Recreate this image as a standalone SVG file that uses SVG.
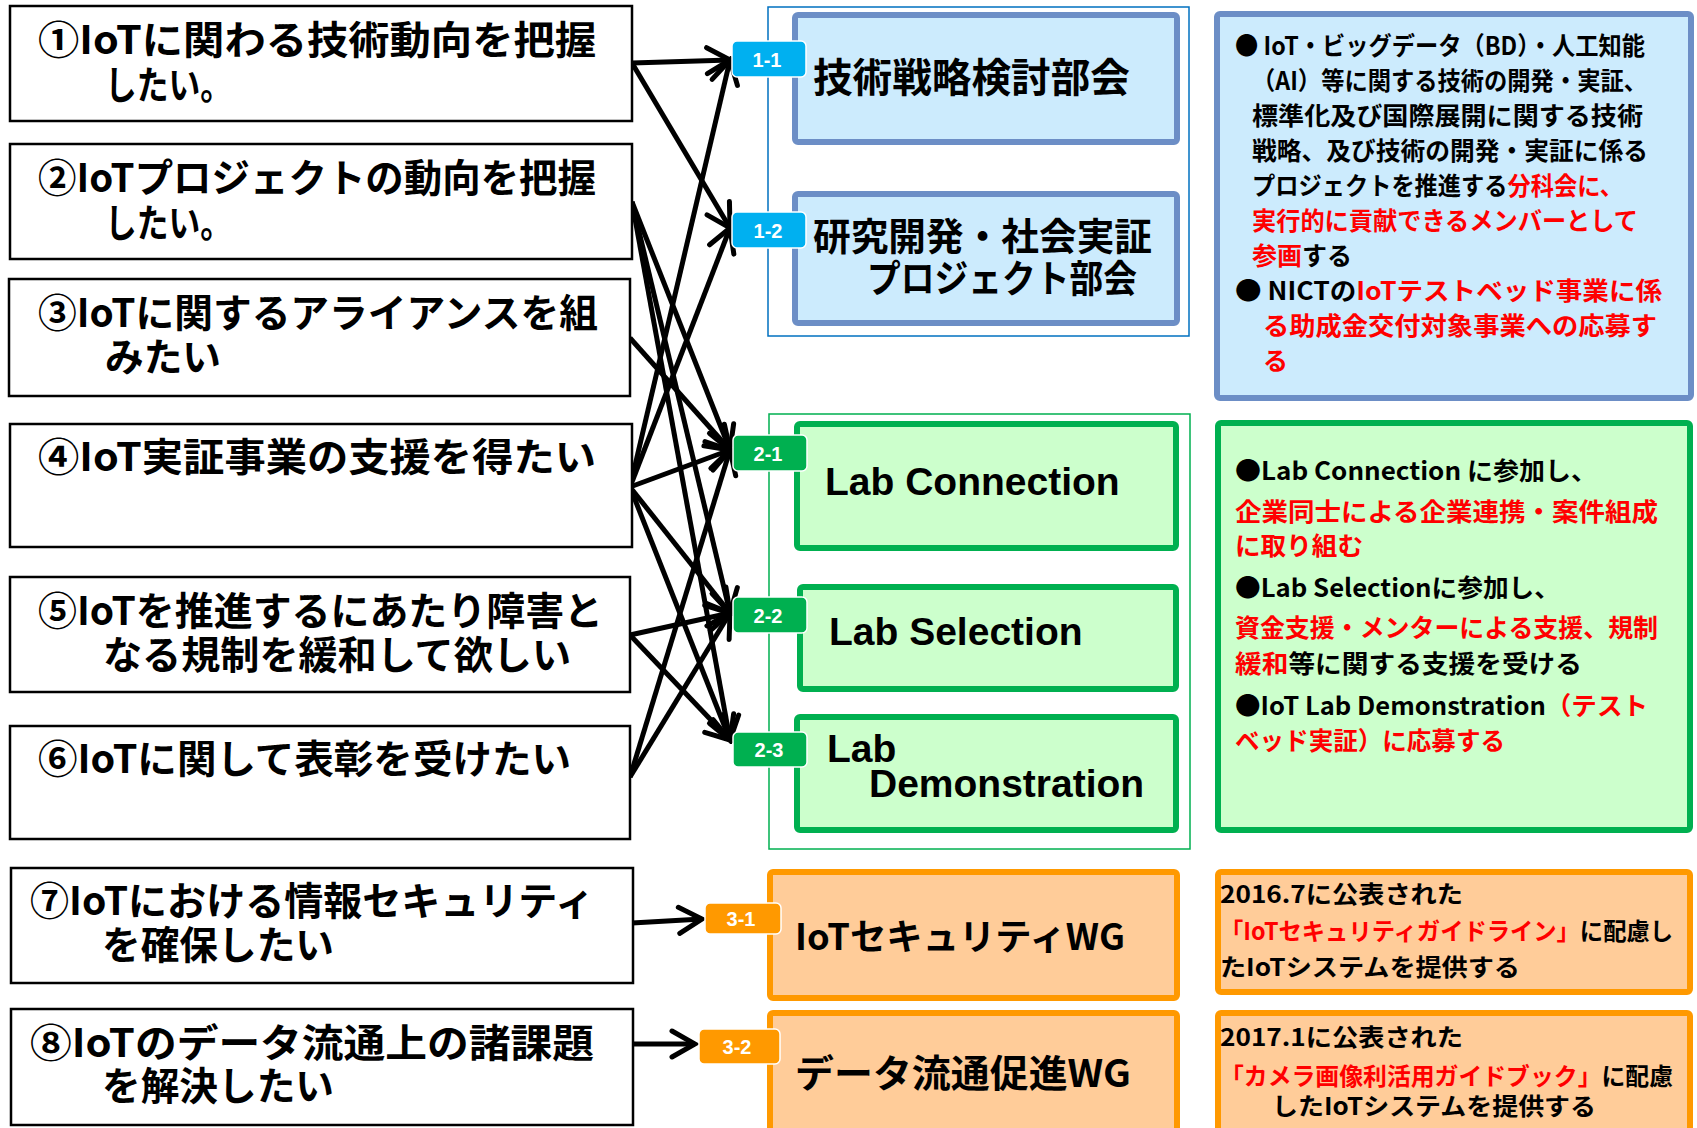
<svg xmlns="http://www.w3.org/2000/svg" width="1697" height="1128" viewBox="0 0 1697 1128">
<style>
.need{fill:#fff;stroke:#000;stroke-width:2.5}
.nt{font-family:"Noto Sans CJK JP","Noto Sans",sans-serif;font-weight:bold;font-size:39px;fill:#000}
.cont1{fill:none;stroke:#0070C0;stroke-width:1.5}
.cont2{fill:none;stroke:#00B050;stroke-width:1.5}
.bbox{fill:#CCEBFD;stroke:#6C8EC6;stroke-width:6}
.gbox{fill:#CCFFCC;stroke:#00B050;stroke-width:6}
.obox{fill:#FFCC99;stroke:#FF9900;stroke-width:6}
.tag1{fill:#00B0F0;stroke:#fff;stroke-width:1.5}
.tag2{fill:#00B050;stroke:#fff;stroke-width:1.5}
.tag3{fill:#FF9900;stroke:#fff;stroke-width:1.5}
.tt{font-family:"Liberation Sans",Arial,sans-serif;font-weight:bold;font-size:20px;fill:#fff;text-anchor:middle}
.jt{font-family:"Noto Sans CJK JP","Noto Sans",sans-serif;font-weight:bold;fill:#000}
.lab{font-family:"Liberation Sans",Arial,sans-serif;font-weight:bold;font-size:39px;fill:#000}
.it{font-family:"Noto Sans CJK JP","Noto Sans",sans-serif;font-weight:bold;font-size:25px;fill:#000}
.ot{font-family:"Noto Sans CJK JP","Noto Sans",sans-serif;font-weight:bold;font-size:24px;fill:#000}
.red{fill:#FF0000}
.con{stroke:#000;stroke-width:5;fill:none;marker-end:url(#ah)}
</style>
<defs>
<marker id="ah" markerUnits="userSpaceOnUse" viewBox="-30 -18 34 36" refX="0" refY="0" markerWidth="34" markerHeight="36" orient="auto">
<path d="M-23,-13 L0,0 L-23,13" fill="none" stroke="#000" stroke-width="5" stroke-linecap="round" stroke-linejoin="miter"/>
</marker>
</defs>
<rect width="1697" height="1128" fill="#fff"/>

<g id="connectors">
<line class="con" x1="632" y1="63" x2="730" y2="60"/>
<line class="con" x1="632" y1="63" x2="730" y2="228"/>
<line class="con" x1="632" y1="202" x2="730" y2="450"/>
<line class="con" x1="632" y1="202" x2="730" y2="613"/>
<line class="con" x1="632" y1="202" x2="730" y2="740"/>
<line class="con" x1="630" y1="338" x2="730" y2="450"/>
<line class="con" x1="630" y1="487" x2="730" y2="60"/>
<line class="con" x1="630" y1="487" x2="730" y2="228"/>
<line class="con" x1="630" y1="487" x2="730" y2="450"/>
<line class="con" x1="630" y1="487" x2="730" y2="613"/>
<line class="con" x1="630" y1="487" x2="730" y2="740"/>
<line class="con" x1="630" y1="635" x2="730" y2="613"/>
<line class="con" x1="630" y1="635" x2="730" y2="740"/>
<line class="con" x1="630" y1="777" x2="730" y2="450"/>
<line class="con" x1="630" y1="777" x2="730" y2="613"/>
<line class="con" x1="632" y1="923" x2="702" y2="919"/>
<line class="con" x1="632" y1="1044" x2="695" y2="1044"/>
</g>

<g id="need1">
<rect class="need" x="10" y="6" width="622" height="115"/>
<text class="nt" x="38" y="54" textLength="558" lengthAdjust="spacingAndGlyphs">①IoTに関わる技術動向を把握</text>
<text class="nt" x="105" y="99" textLength="127" lengthAdjust="spacingAndGlyphs">したい。</text>
</g>
<g id="need2">
<rect class="need" x="10" y="144" width="622" height="115"/>
<text class="nt" x="38" y="192" textLength="558" lengthAdjust="spacingAndGlyphs">②IoTプロジェクトの動向を把握</text>
<text class="nt" x="105" y="237" textLength="127" lengthAdjust="spacingAndGlyphs">したい。</text>
</g>
<g id="need3">
<rect class="need" x="9" y="279" width="621" height="117"/>
<text class="nt" x="38" y="327" textLength="560" lengthAdjust="spacingAndGlyphs">③IoTに関するアライアンスを組</text>
<text class="nt" x="105" y="371" textLength="116" lengthAdjust="spacingAndGlyphs">みたい</text>
</g>
<g id="need4">
<rect class="need" x="10" y="424" width="622" height="123"/>
<text class="nt" x="38" y="471" textLength="558" lengthAdjust="spacingAndGlyphs">④IoT実証事業の支援を得たい</text>
</g>
<g id="need5">
<rect class="need" x="10" y="577" width="620" height="115"/>
<text class="nt" x="38" y="625" textLength="565" lengthAdjust="spacingAndGlyphs">⑤IoTを推進するにあたり障害と</text>
<text class="nt" x="103" y="669" textLength="468" lengthAdjust="spacingAndGlyphs">なる規制を緩和して欲しい</text>
</g>
<g id="need6">
<rect class="need" x="10" y="726" width="620" height="113"/>
<text class="nt" x="38" y="773" textLength="533" lengthAdjust="spacingAndGlyphs">⑥IoTに関して表彰を受けたい</text>
</g>
<g id="need7">
<rect class="need" x="11" y="868" width="622" height="115"/>
<text class="nt" x="30" y="915" textLength="564" lengthAdjust="spacingAndGlyphs">⑦IoTにおける情報セキュリティ</text>
<text class="nt" x="102" y="959" textLength="232" lengthAdjust="spacingAndGlyphs">を確保したい</text>
</g>
<g id="need8">
<rect class="need" x="11" y="1009" width="622" height="116"/>
<text class="nt" x="30" y="1057" textLength="564" lengthAdjust="spacingAndGlyphs">⑧IoTのデータ流通上の諸課題</text>
<text class="nt" x="102" y="1100" textLength="232" lengthAdjust="spacingAndGlyphs">を解決したい</text>
</g>

<g id="group1">
<rect class="cont1" x="768" y="7" width="421" height="329"/>
</g>
<g id="wg1-1">
<rect class="bbox" x="795" y="15" width="382" height="127" rx="3"/>
<text class="jt" x="813" y="92" font-size="40" textLength="317" lengthAdjust="spacingAndGlyphs">技術戦略検討部会</text>
</g>
<g id="wg1-2">
<rect class="bbox" x="795" y="194" width="382" height="129" rx="3"/>
<text class="jt" x="813" y="250" font-size="38" textLength="339" lengthAdjust="spacingAndGlyphs">研究開発・社会実証</text>
<text class="jt" x="867" y="292" font-size="38" textLength="270" lengthAdjust="spacingAndGlyphs">プロジェクト部会</text>
</g>
<g id="tag1-1"><rect class="tag1" x="732" y="41" width="74" height="36" rx="5"/><text class="tt" x="767" y="67">1-1</text></g>
<g id="tag1-2"><rect class="tag1" x="732" y="212" width="74" height="36" rx="5"/><text class="tt" x="768" y="238">1-2</text></g>

<g id="group2">
<rect class="cont2" x="769" y="414" width="421" height="435"/>
</g>
<g id="wg2-1">
<rect class="gbox" x="797" y="424" width="379" height="124" rx="3"/>
<text class="lab" x="825" y="495">Lab Connection</text>
</g>
<g id="wg2-2">
<rect class="gbox" x="800" y="587" width="376" height="102" rx="3"/>
<text class="lab" x="829" y="645">Lab Selection</text>
</g>
<g id="wg2-3">
<rect class="gbox" x="797" y="717" width="379" height="113" rx="3"/>
<text class="lab" x="827" y="762">Lab</text>
<text class="lab" x="869" y="797">Demonstration</text>
</g>
<g id="tag2-1"><rect class="tag2" x="733" y="435" width="74" height="36" rx="5"/><text class="tt" x="768" y="461">2-1</text></g>
<g id="tag2-2"><rect class="tag2" x="733" y="597" width="74" height="36" rx="5"/><text class="tt" x="768" y="623">2-2</text></g>
<g id="tag2-3"><rect class="tag2" x="733" y="732" width="74" height="35" rx="5"/><text class="tt" x="769" y="757">2-3</text></g>

<g id="wg3-1">
<rect class="obox" x="770" y="872" width="407" height="126" rx="3"/>
<text class="jt" x="795" y="950" font-size="36" textLength="330" lengthAdjust="spacingAndGlyphs">IoTセキュリティWG</text>
</g>
<g id="wg3-2">
<rect class="obox" x="770" y="1013" width="407" height="125" rx="3"/>
<text class="jt" x="795" y="1087" font-size="38" textLength="336" lengthAdjust="spacingAndGlyphs">データ流通促進WG</text>
</g>
<g id="tag3-1"><rect class="tag3" x="705" y="903" width="76" height="31" rx="5"/><text class="tt" x="741" y="926">3-1</text></g>
<g id="tag3-2"><rect class="tag3" x="699" y="1029" width="81" height="35" rx="5"/><text class="tt" x="737" y="1054">3-2</text></g>

<g id="info1">
<rect class="bbox" x="1217" y="14" width="474" height="384" rx="3"/>
<text class="it" x="1235" y="55" textLength="410" lengthAdjust="spacingAndGlyphs">● IoT・ビッグデータ（BD）・人工知能</text>
<text class="it" x="1252" y="90" textLength="395" lengthAdjust="spacingAndGlyphs">（AI）等に関する技術の開発・実証、</text>
<text class="it" x="1252" y="125" textLength="391" lengthAdjust="spacingAndGlyphs">標準化及び国際展開に関する技術</text>
<text class="it" x="1252" y="160" textLength="396" lengthAdjust="spacingAndGlyphs">戦略、及び技術の開発・実証に係る</text>
<text class="it" x="1252" y="195" textLength="371" lengthAdjust="spacingAndGlyphs">プロジェクトを推進する<tspan class="red">分科会に、</tspan></text>
<text class="it red" x="1252" y="230" textLength="386" lengthAdjust="spacingAndGlyphs">実行的に貢献できるメンバーとして</text>
<text class="it" x="1252" y="265"><tspan class="red">参画</tspan>する</text>
<text class="it" x="1235" y="300" textLength="427" lengthAdjust="spacingAndGlyphs">● NICTの<tspan class="red">IoTテストベッド事業に係</tspan></text>
<text class="it red" x="1263" y="335" textLength="394" lengthAdjust="spacingAndGlyphs">る助成金交付対象事業への応募す</text>
<text class="it red" x="1263" y="370">る</text>
</g>

<g id="info2">
<rect class="gbox" x="1218" y="423" width="472" height="407" rx="3"/>
<text class="it" x="1235" y="480" textLength="362" lengthAdjust="spacingAndGlyphs">●Lab Connection に参加し、</text>
<text class="it red" x="1235" y="521" textLength="423" lengthAdjust="spacingAndGlyphs">企業同士による企業連携・案件組成</text>
<text class="it red" x="1235" y="555" textLength="128" lengthAdjust="spacingAndGlyphs">に取り組む</text>
<text class="it" x="1235" y="597" textLength="325" lengthAdjust="spacingAndGlyphs">●Lab Selectionに参加し、</text>
<text class="it red" x="1235" y="637" textLength="423" lengthAdjust="spacingAndGlyphs">資金支援・メンターによる支援、規制</text>
<text class="it" x="1235" y="673" textLength="347" lengthAdjust="spacingAndGlyphs"><tspan class="red">緩和</tspan>等に関する支援を受ける</text>
<text class="it" x="1235" y="715" textLength="413" lengthAdjust="spacingAndGlyphs">●IoT Lab Demonstration<tspan class="red">（テスト</tspan></text>
<text class="it red" x="1235" y="750" textLength="270" lengthAdjust="spacingAndGlyphs">ベッド実証）に応募する</text>
</g>

<g id="info3">
<rect class="obox" x="1218" y="872" width="472" height="120" rx="3"/>
<text class="ot" x="1220" y="903" textLength="243" lengthAdjust="spacingAndGlyphs">2016.7に公表された</text>
<text class="ot" x="1220" y="940" textLength="453" lengthAdjust="spacingAndGlyphs"><tspan class="red">「IoTセキュリティガイドライン」</tspan>に配慮し</text>
<text class="ot" x="1220" y="976" textLength="300" lengthAdjust="spacingAndGlyphs">たIoTシステムを提供する</text>
</g>
<g id="info4">
<rect class="obox" x="1218" y="1013" width="472" height="125" rx="3"/>
<text class="ot" x="1220" y="1046" textLength="243" lengthAdjust="spacingAndGlyphs">2017.1に公表された</text>
<text class="ot" x="1220" y="1085" textLength="453" lengthAdjust="spacingAndGlyphs"><tspan class="red">「カメラ画像利活用ガイドブック」</tspan>に配慮</text>
<text class="ot" x="1272" y="1115" textLength="324" lengthAdjust="spacingAndGlyphs">したIoTシステムを提供する</text>
</g>
</svg>
